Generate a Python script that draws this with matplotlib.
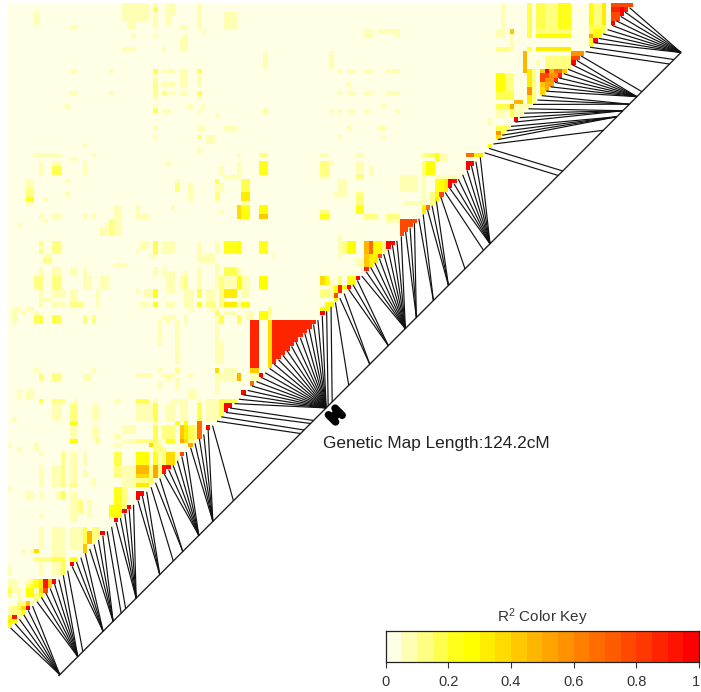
import numpy as np
import matplotlib
matplotlib.use("Agg")
import matplotlib.pyplot as plt
from matplotlib.colors import ListedColormap, BoundaryNorm
from matplotlib.transforms import ScaledTranslation

plt.rcParams['font.family'] = ['Liberation Sans', 'DejaVu Sans']
plt.rcParams['mathtext.default'] = 'regular'

# R2 bin centres
a, b, c, d, e, f, g, h = .075, .125, .175, .225, .275, .325, .375, .425
i_, j, k, l, m, o, p, q = .475, .525, .575, .675, .775, .875, .925, .975

marker_count = 142
background_r2 = 0.025

# (first row, last row, first col, last col, R2) in marker indices
ld_blocks = [
 (0,3,26,31,a),(4,5,27,28,a),(0,5,33,33,a),(1,1,33,33,c),(0,2,36,37,a),(3,4,36,36,a),(0,5,43,43,a),(2,5,49,51,a),
 (2,4,6,6,a),(5,5,14,15,a),(5,5,39,40,a),(6,6,44,44,a),(7,7,28,28,a),(7,7,33,33,a),(7,10,40,40,a),(8,10,39,39,a),
 (10,10,26,28,a),(10,10,35,35,a),(15,15,14,15,a),(15,15,23,23,a),(15,15,33,33,c),(15,15,35,37,a),(15,15,39,40,a),(15,15,43,43,c),
 (16,21,33,33,a),(18,20,33,33,b),(18,18,35,37,a),(16,18,39,40,a),(16,18,43,43,a),(20,20,14,15,a),(20,20,23,23,a),(20,20,35,35,b),
 (20,20,36,37,a),(20,20,39,40,a),(20,20,43,43,c),(21,21,43,43,a),(23,23,13,13,a),(23,23,33,33,a),(23,23,41,41,a),(23,23,44,44,a),
 (24,24,33,33,c),(24,24,35,36,a),(24,24,43,43,a),(25,25,47,47,a),(28,28,33,33,a),(28,28,43,44,a),(28,28,49,51,a),(30,30,33,33,a),
 (30,30,43,43,b),(30,31,45,46,a),(32,32,17,17,a),(33,33,43,43,a),(34,34,6,9,a),(34,34,10,11,a),(34,34,19,19,a),(34,34,52,52,a),
 (35,35,14,15,a),(36,36,36,36,a),(36,36,10,11,a),(37,38,10,11,c),(36,38,7,7,a),(36,38,17,17,a),(37,38,48,48,a),(36,38,52,52,a),
 (39,39,49,52,a),(40,45,4,5,a),(42,43,4,5,b),(44,44,4,5,d),(40,40,13,13,a),(40,40,38,38,a),(40,40,47,47,c),(41,42,38,38,b),
 (41,44,41,41,a),(41,42,47,48,a),(43,44,47,47,b),(43,43,13,13,a),(44,44,8,8,a),(46,46,37,37,a),(46,52,24,25,a),(46,47,29,29,a),
 (48,48,29,31,a),(47,47,48,48,a),(46,48,52,52,g),(48,48,7,7,a),(48,48,10,11,a),(48,48,17,17,a),(48,48,19,19,a),(49,49,8,8,a),
 (50,50,2,2,a),(50,52,22,22,a),(51,52,21,21,a),(49,52,23,23,b),
 (54,56,7,7,b),(55,55,7,7,a),(54,56,10,11,b),(54,55,30,31,a),(54,56,33,33,c),(54,56,35,37,a),(54,56,43,43,a),(54,56,47,47,a),
 (54,56,49,51,d),(56,56,29,29,a),(57,57,8,9,a),(57,57,32,33,a),(57,58,43,46,a),(58,58,8,9,b),(59,59,24,26,a),(59,59,47,47,a),
 (60,61,7,7,a),(60,61,10,11,a),(60,61,14,15,a),(60,61,17,17,a),(60,61,33,33,a),(60,61,35,35,a),(60,61,43,43,a),(60,61,47,47,a),
 (60,61,49,51,c),(61,61,40,40,a),(62,64,6,7,b),(62,64,10,11,b),(62,64,17,18,a),(62,64,21,22,a),(61,65,36,37,a),(62,64,39,39,a),(62,64,40,40,b),
 (62,64,43,43,a),(62,64,47,47,a),(62,64,48,48,b),(62,64,49,51,a),(62,64,52,52,e),
 (65,67,7,7,a),(65,66,10,12,a),(65,67,14,15,a),(65,67,20,20,a),(65,65,29,29,a),(65,66,31,32,a),(65,66,33,33,d),(65,67,40,41,a),
 (65,66,43,43,c),(65,67,45,46,a),(65,67,48,48,b),(65,66,49,51,f),(67,67,8,9,a),
 (68,68,7,7,a),(68,68,10,12,a),(68,68,14,16,b),(68,68,20,20,a),(68,68,30,31,a),(68,68,33,33,d),(68,68,36,37,a),(68,68,40,41,a),
 (68,68,43,43,d),(68,68,45,46,b),(68,68,48,48,b),(68,68,49,51,f),(68,68,52,52,a),(69,69,1,2,a),(69,69,4,5,a),(69,69,41,41,a),(69,69,46,47,a),
 (70,70,1,1,a),(70,70,3,3,a),(70,70,6,6,a),(70,70,47,47,c),(70,70,49,51,a),(71,72,1,1,a),(71,72,6,7,c),(71,72,10,11,c),(71,72,17,17,b),
 (71,72,19,19,b),(71,71,35,37,a),(72,72,36,36,a),(71,72,40,40,a),(71,72,47,47,a),(71,72,48,48,c),(71,72,52,52,c),
 (72,77,34,34,a),(72,81,38,38,a),(73,76,47,47,a),(77,81,47,48,a),
 (83,83,6,6,a),(83,83,19,19,a),(83,83,34,34,a),(83,83,38,38,b),(83,83,47,47,g),(83,85,49,51,a),(84,85,7,7,b),(84,85,10,11,b),(84,85,17,18,a),
 (84,84,29,32,a),(84,84,35,37,a),(84,84,41,41,a),(84,85,47,48,a),(84,85,52,52,i_),(85,85,36,36,a),(85,85,38,38,a),(86,87,34,34,a),
 (86,87,38,38,a),(86,87,47,47,a),(88,89,2,2,a),(88,89,4,5,a),(88,89,41,42,a),(88,88,47,47,a),
 (90,90,7,7,c),(90,90,10,12,b),(90,90,15,15,a),(90,90,24,25,a),(90,90,29,31,c),(90,90,33,33,a),(90,90,37,38,a),(90,90,39,40,a),
 (90,90,43,43,a),(90,90,45,47,a),(90,90,48,51,c),(91,94,10,11,a),(91,94,14,15,b),(91,94,19,20,a),(91,94,29,32,a),(91,94,33,33,c),
 (91,94,36,37,a),(91,94,39,40,a),(91,94,43,43,c),(91,94,45,47,a),(91,94,48,48,c),(91,92,49,49,q),(91,91,50,50,q),(93,93,49,49,c),
 (94,94,1,1,a),(95,95,14,15,d),(95,95,33,33,a),(95,95,38,38,d),(95,95,40,40,e),(95,95,43,43,l),
 (96,98,14,15,a),(96,98,19,20,a),(96,97,26,28,a),(96,98,33,33,c),(96,98,35,35,b),(96,98,36,37,b),(96,98,39,39,h),(96,98,40,40,f),
 (96,98,41,41,c),(96,98,42,42,b),(96,98,43,43,l),(96,96,45,45,q),(98,98,24,25,a),(99,99,14,15,e),(99,99,20,20,b),(99,99,26,28,a),
 (99,99,29,32,b),(99,99,33,33,c),(99,99,34,34,a),(99,99,36,37,d),(99,99,39,39,j),(99,99,40,40,g),(99,99,41,41,b),(99,99,42,42,a),
 (100,100,0,0,a),(100,100,6,6,a),(100,100,24,25,a),(100,100,32,32,g),(100,100,33,34,b),(100,100,41,41,j),(101,101,2,2,a),(101,101,6,6,a),
 (101,101,33,35,b),(102,102,7,7,a),(102,104,12,12,b),(102,104,14,15,a),(102,104,17,17,a),(102,104,24,25,c),(102,104,29,31,e),
 (102,104,33,33,d),(102,104,34,34,a),(102,104,35,35,b),(102,104,36,37,g),(102,104,38,38,a),(102,102,39,39,m),
 (105,109,7,7,a),(105,109,10,11,a),(105,109,12,12,b),(105,109,14,15,a),(106,107,17,17,a),(105,107,24,25,b),(105,109,26,28,a),
 (105,106,29,31,i_),(107,107,29,31,g),(105,108,32,32,b),(105,107,33,33,j),(105,107,34,34,b),(105,107,35,35,p),(105,105,36,36,q),
 (109,109,14,15,b),(108,109,19,19,a),(108,108,29,31,b),(109,109,29,31,f),(108,108,32,32,c),
 (110,113,24,25,d),(110,113,26,26,b),(110,110,0,0,a),(111,112,4,5,a),(111,112,7,7,a),(111,112,11,11,a),(111,112,12,12,c),
 (111,117,14,15,a),(111,111,30,30,q),(111,112,29,29,q),(113,115,16,16,b),(113,116,18,18,a),(114,116,23,25,e),(114,116,26,26,b),
 (114,114,27,27,q),(115,115,26,26,q),(116,116,7,7,a),(117,117,24,24,q),
 (119,123,7,7,a),(119,123,10,12,a),(119,123,14,15,a),(119,123,16,16,a),(119,122,17,17,c),(120,122,18,18,i_),(119,122,19,20,b),(120,120,21,21,q),
 (123,124,17,17,h),(124,124,3,3,a),(124,124,5,5,a),(124,124,6,6,g),(124,125,10,12,a),(126,126,6,9,b),(126,126,10,12,c),(126,126,14,15,d),
 (127,127,14,14,q),(128,129,0,0,a),(127,129,7,7,a),(127,129,10,11,a),(127,129,12,12,c),
 (131,132,0,1,a),(131,131,4,4,a),(131,131,5,5,b),(131,131,6,6,d),(131,131,7,7,f),(131,132,8,8,p),(131,131,9,9,h),(131,131,10,10,q),
 (132,132,4,4,b),(132,132,5,5,c),(132,132,6,6,e),(132,132,7,7,f),(132,132,9,9,h),(133,133,0,0,c),(133,133,1,1,a),(133,133,2,2,a),
 (133,134,4,5,e),(133,133,6,6,a),(133,133,7,7,g),(133,133,8,8,m),(134,134,0,0,b),(134,134,2,2,a),(134,134,6,6,b),(134,134,7,7,e),
 (135,135,2,2,a),(135,135,6,6,b),(136,136,2,3,b),(136,136,4,4,h),(136,136,5,5,a),(137,137,4,4,q),(137,137,0,0,a),(137,137,1,1,b),
 (137,137,2,2,c),(137,137,3,3,g),(138,138,0,0,a),(138,138,1,2,b),(138,138,3,3,d),(139,139,0,0,d),(139,139,1,1,p),(139,139,2,2,a),
 (140,140,0,0,f),(140,140,1,1,e),(141,141,0,0,d),
 # centre
 (6,7,81,82,a),(6,6,84,87,a),(6,7,88,88,a),(11,14,58,58,a),(11,14,73,73,a),(15,15,75,75,a),(15,15,77,78,a),(15,15,81,82,a),(15,15,86,88,a),
 (18,18,77,77,a),(20,20,75,75,a),(20,20,77,78,a),(20,20,81,82,a),(20,20,86,88,a),(23,23,85,85,a),(24,24,58,58,b),(24,24,73,73,a),(24,24,75,75,a),
 (24,24,77,78,a),(24,24,81,81,a),(24,24,88,88,a),(28,28,77,77,a),(28,28,84,85,a),(30,30,75,75,a),(30,30,85,85,a),
 (34,34,57,58,b),(34,34,71,72,a),(34,34,79,80,a),(34,34,94,95,b),(34,34,96,96,c),(34,34,97,97,d),(34,34,98,99,a),(34,34,104,105,l),(34,34,106,106,f),(34,34,107,107,f),
 (35,35,97,97,d),(35,35,98,99,a),(36,36,104,105,q),(37,37,104,104,q),(36,38,57,58,d),(36,38,71,72,b),(36,36,73,73,a),(36,38,79,80,a),(37,38,82,82,a),
 (36,38,94,94,b),(36,38,95,96,e),(39,39,71,72,a),(39,39,79,80,b),(39,42,89,92,a),(39,45,94,94,a),(39,39,97,101,a),
 (40,44,53,54,c),(40,43,75,76,a),(40,42,97,97,d),(40,42,98,98,e),(40,42,99,99,f),(40,41,100,100,q),(40,40,101,101,p),
 (43,44,53,54,f),(43,43,74,74,a),(43,45,79,80,b),(43,43,98,98,m),(43,44,96,96,b),(43,43,97,97,e),(44,44,97,97,f),(45,45,96,96,b),(45,45,90,93,a),(45,45,53,54,a),
 (46,46,53,54,d),(47,48,53,54,e),(46,47,57,58,e),(48,48,57,58,h),(47,47,71,72,b),(48,48,71,72,d),(46,47,79,80,d),(48,48,81,83,b),(48,48,86,88,b),(46,47,94,94,f),(46,46,95,95,l),
 (49,49,89,92,m),(50,50,89,91,m),(51,51,89,90,m),(52,52,89,89,m),(49,49,86,88,a),
 (54,56,52,52,e),(54,56,57,58,d),(57,57,60,60,a),(60,61,52,52,a),(62,64,53,54,a),(62,64,57,58,e),(65,66,53,54,a),(68,68,53,54,e),
 (69,70,59,59,b),(70,71,57,58,e),(70,71,54,55,a),(71,72,59,59,a),(72,82,55,56,o),(83,83,55,56,h),(72,82,59,59,g),(71,71,59,59,a),(72,81,60,69,o),
 (84,84,57,57,q),(86,86,55,55,l),(88,88,53,53,q),(84,85,55,56,a),(88,89,54,55,a),(84,85,59,59,a),
 (54,56,81,81,i_),(54,56,82,82,l),(54,56,83,84,e),(54,56,85,85,b),(54,54,86,87,q),(55,55,86,86,q),(54,56,77,78,e),(53,57,75,75,a),(54,56,76,76,b),
 (57,57,84,84,m),(57,59,81,81,h),(57,59,82,83,f),(60,60,81,81,o),(58,59,79,80,a),
 (62,62,79,79,q),(64,64,77,77,q),(62,63,71,71,g),(62,63,72,72,e),(62,64,75,75,b),(62,63,77,78,d),(64,65,75,75,o),(64,66,74,74,e),(64,64,76,76,e),(66,66,74,74,m),(67,67,74,74,e),
 (65,66,71,72,b),(68,68,72,73,e),(69,69,71,73,e),(70,70,71,71,q),(63,66,73,73,a),
 # right
 (0,0,137,141,m),(1,1,137,140,o),(2,2,137,139,m),(3,3,137,138,m),(4,4,137,137,q),(1,2,139,139,q),
 (0,5,132,132,e),(0,5,133,134,b),(0,5,135,135,f),(5,6,132,135,c),(6,7,133,134,e),(7,7,132,132,j),(8,8,132,132,e),(8,8,133,133,q),(9,9,132,132,d),
 (0,5,112,112,a),(0,7,118,118,c),(0,5,120,121,c),(0,5,122,124,b),(0,5,125,127,d),(6,6,120,127,b),(7,7,120,127,e),
 (6,7,111,112,a),(6,6,114,114,h),(7,10,114,114,a),(10,10,111,113,b),(10,10,118,118,c),(10,10,120,127,f),
 (11,11,128,130,k),(12,12,128,129,m),(13,13,128,128,q),(12,14,122,127,b),(11,15,117,117,i_),(13,13,120,120,a),
 (15,15,121,121,h),(15,15,122,122,q),(15,15,123,123,i_),(15,15,124,125,l),(15,15,126,126,h),
 (16,16,121,122,m),(16,16,123,124,k),(16,16,125,125,o),(17,17,121,121,m),(17,17,122,123,k),(17,17,124,124,o),(18,18,121,121,h),(18,18,122,123,j),(19,19,121,121,g),(19,19,122,122,j),(20,20,121,121,g),
 (16,19,111,112,e),(16,19,113,114,b),(20,21,111,114,c),(15,22,118,118,f),(19,20,118,118,k),(15,22,119,119,b),(22,22,115,116,i_),
 (23,23,111,113,c),(23,23,114,114,j),(23,23,115,118,a),(24,25,111,112,a),(24,25,114,114,c),(24,25,115,116,a),(26,26,115,115,q),(26,27,109,109,a),
 (28,28,111,113,c),(29,29,111,111,k),(29,29,112,112,c),(30,30,111,111,g),(32,32,109,109,e),
]

# map position of each marker, cM
map_pos_cM = ([0.26]*6 + [3.85]*7 + [4.85] + [8.9]*4 + [10.9]*4 + [12.5] + [13.4] + [15.5]*5
              + [20.2]*3 + [22.9] + [24.8]*2 + [28.0]*6 + [30.8]*5 + [34.9]
              + [48.3, 49.0] + [50.3, 50.9] + [53.4]*21 + [53.8] + [54.6] + [57.9] + [62.1]*2 + [65.8]*3
              + [69.2]*10 + [71.4]*3 + [74.8]*2 + [77.8]*3 + [81.1] + [84.8] + [86.1]*8 + [99.7, 100.6]
              + [108.7] + [111.4]*4 + [112.6]*4 + [113.9]*3 + [115.4]*8 + [116.4] + [121.9, 122.8] + [124.2]*9)
map_length_cM = 124.2

key_ticks = [0, 0.2, 0.4, 0.6, 0.8, 1]
key_labels = ['0', '0.2', '0.4', '0.6', '0.8', '1']
key_edges = list(np.linspace(0, 1, 21))
key_colors = ['#FFFFE6','#FFFFB3','#FFFF80','#FFFF4D','#FFFF1A','#FFFF00','#FFED00','#FFDB00','#FFC800','#FFB600',
              '#FFA400','#FF9200','#FF8000','#FF6D00','#FF5B00','#FF4900','#FF3700','#FF2400','#FF1200','#FF0000']

cmap = ListedColormap(key_colors)
norm = BoundaryNorm(key_edges, cmap.N)

W, H = 701, 692
PITCH, X0, Y0 = 4.4, 8.0, 3.0
fig = plt.figure(figsize=(W/100, H/100), dpi=100)
ax = fig.add_axes([0, 0, 1, 1])
ax.set_xlim(-X0/PITCH, (W-X0)/PITCH)
ax.set_ylim((H-Y0)/PITCH, -Y0/PITCH)
ax.axis('off')

M = np.full((marker_count, marker_count), background_r2)
for r0, r1, c0, c1, v in ld_blocks:
    M[r0:r1+1, c0:c1+1] = v
rr, cc = np.indices(M.shape)
M = np.ma.masked_where(rr + cc > marker_count - 1, M)
ax.pcolormesh(np.arange(marker_count+1), np.arange(marker_count+1), M, cmap=cmap, norm=norm, rasterized=True)

# genetic map: line along the diagonal, with a segment from each marker
def map_xy(cm):
    px = 58.5 + 622.5 * cm / map_length_cM
    py = 676.0 - 623.5 * cm / map_length_cM
    return (px - X0) / PITCH, (py - Y0) / PITCH

mx0, my0 = map_xy(0)
mx1, my1 = map_xy(map_length_cM)
ax.plot([mx0, mx1], [my0, my1], color='#222222', lw=1.0, solid_capstyle='butt')
for idx, cm in enumerate(map_pos_cM):
    sx = 0.6 + idx * 0.9975
    sy = 142.05 - idx * 1.0
    ex, ey = map_xy(cm)
    ax.plot([sx, ex], [sy, ey], color='#111111', lw=0.85, solid_capstyle='butt')

# dog-bone symbol beyond the map line
bx, by = map_xy(55.4)
bx, by = bx - 0.2, by + 3.9
for ox, oy in [(0.75, -0.75), (-0.75, 0.75)]:
    ax.plot([bx+ox-0.8, bx+ox+0.8], [by+oy-0.8, by+oy+0.8], color='black', lw=5.5,
            solid_capstyle='round', zorder=3)
ax.plot([bx-0.75, bx+0.75], [by+0.75, by-0.75], color='black', lw=6.5, solid_capstyle='butt', zorder=3)

ax.text((323-X0)/PITCH, (443-Y0)/PITCH, 'Genetic Map Length:124.2cM', fontsize=12.4, color='#222222',
        ha='left', va='center')

# colour key
kax = fig.add_axes([385.5/W, 1-661.5/H, (699-385.5)/W, 31/H])
kax.pcolormesh(key_edges, [0, 1], np.array([[(key_edges[i]+key_edges[i+1])/2 for i in range(20)]]), cmap=cmap, norm=norm)
kax.set_xlim(0, 1)
kax.set_ylim(0, 1)
kax.set_yticks([])
kax.set_xticks(key_ticks)
kax.set_xticklabels(key_labels, fontsize=10.5, color='#333333')
kax.tick_params(axis='x', length=4.5, width=0.8, color='#333333', pad=5)
last = kax.get_xticklabels()[-1]
last.set_transform(last.get_transform() + ScaledTranslation(-3/100, 0, fig.dpi_scale_trans))
for s in kax.spines.values():
    s.set_linewidth(0.9)
    s.set_color('#222222')
kax.set_title(r'R$^{2}$ Color Key', fontsize=11, color='#333333', pad=6)

fig.savefig('out.png', dpi=100)
